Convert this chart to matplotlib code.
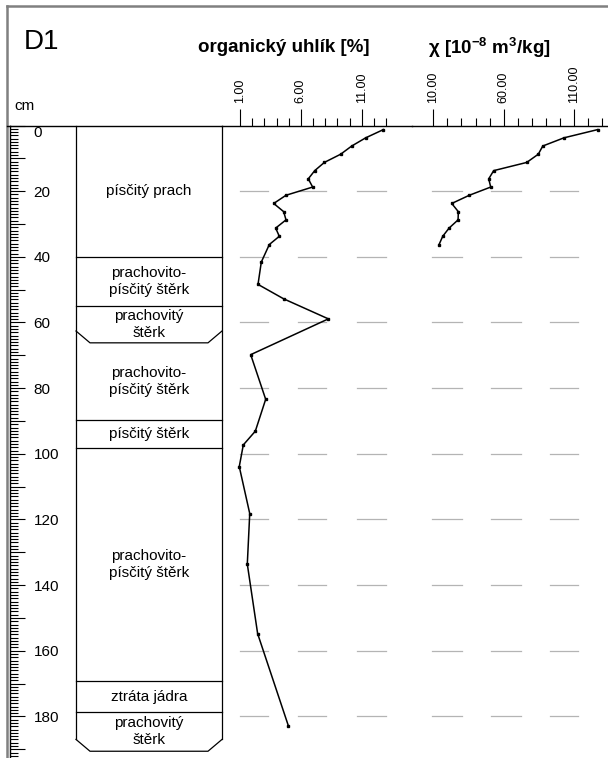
import numpy as np
import matplotlib
matplotlib.use('Agg')
import matplotlib.pyplot as plt
from matplotlib.lines import Line2D
from matplotlib.ticker import FixedLocator, MultipleLocator

# lithology of the core (depth in cm)
layer_tops = [0, 40, 55, 66.2, 89.8, 98.3, 169.3, 178.7]
layer_bottoms = [40, 55, 66.2, 89.8, 98.3, 169.3, 178.7, 190.6]
layer_names = ['písčitý prach', 'prachovito-\npísčitý štěrk', 'prachovitý\nštěrk',
	'prachovito-\npísčitý štěrk', 'písčitý štěrk', 'prachovito-\npísčitý štěrk',
	'ztráta jádra', 'prachovitý\nštěrk']
layer_cut = [False, False, True, False, False, False, False, True]

# organic carbon [%]
org_depth = [1.25, 3.75, 6.25, 8.75, 11.25, 13.75, 16.25, 18.75, 21.25, 23.75,
	26.25, 28.75, 31.25, 33.75, 36.25, 41.6, 48.4, 52.8, 58.9, 69.8,
	83.4, 93.1, 97.3, 103.9, 118.2, 133.6, 154.8, 182.8]
org_values = [12.78, 11.33, 10.18, 9.27, 7.93, 7.14, 6.61, 6.97, 4.78, 3.77,
	4.59, 4.78, 3.93, 4.23, 3.41, 2.75, 2.48, 4.59, 8.26, 1.88,
	3.11, 2.26, 1.27, 0.94, 1.80, 1.60, 2.45, 4.97]

# magnetic susceptibility chi [10^-8 m3/kg]
chi_depth = [1.25, 3.75, 6.25, 8.75, 11.25, 13.75, 16.25, 18.75, 21.25, 23.75,
	26.25, 28.75, 31.25, 33.75, 36.25]
chi_values = [126.8, 102.9, 87.8, 84.6, 76.4, 52.9, 49.4, 50.8, 35.6, 23.1,
	27.8, 27.6, 21.2, 16.7, 14.1]

org_major = [1, 6, 11]
org_minor = [2, 3, 4, 5, 7, 8, 9, 10, 12, 13]
chi_major = [10, 60, 110]
chi_minor = [20, 30, 40, 50, 70, 80, 90, 100, 120, 130]
depth_major = list(range(0, 191, 10))
grid_depths = [20, 40, 60, 80, 100, 120, 140, 160, 180]

W, H = 608, 758
TOP = 125.5
PX_CM = 3.283


def fx(px):
	return px / W

def fy(py):
	return 1 - py / H


def value_axis(fig, left, right, xlim, major, minor, spans):
	ax = fig.add_axes([fx(left), 0, fx(right - left), fy(TOP)])
	ax.patch.set_visible(False)
	ax.set_xlim(xlim)
	ax.set_ylim((H - TOP) / PX_CM, 0)
	for s in ['left', 'right', 'bottom']:
		ax.spines[s].set_visible(False)
	ax.spines['top'].set_linewidth(1.0)
	ax.xaxis.tick_top()
	ax.set_xticks(major)
	ax.set_xticklabels(['%.2f' % m for m in major])
	ax.xaxis.set_minor_locator(FixedLocator(minor))
	ax.tick_params(axis='x', which='major', direction='out', length=12, width=0.8,
		labelsize=9, pad=4, labelrotation=90)
	ax.tick_params(axis='x', which='minor', direction='out', length=6, width=0.8)
	ax.set_yticks([])
	for d in grid_depths:
		for a, b in spans:
			ax.plot([a, b], [d, d], color='#b4b4b4', lw=0.9, zorder=1)
	return ax


def main():
	plt.rcParams['font.family'] = ['Liberation Sans', 'DejaVu Sans']
	plt.rcParams['mathtext.default'] = 'regular'
	fig = plt.figure(figsize=(W / 100, H / 100), dpi=100)

	# depth scale + lithology column
	ax = fig.add_axes([fx(10), 0, fx(212), fy(TOP)])
	ax.patch.set_visible(False)
	ax.set_xlim(0, 212)
	ax.set_ylim((H - TOP) / PX_CM, 0)
	for s in ['right', 'bottom']:
		ax.spines[s].set_visible(False)
	ax.spines['left'].set_linewidth(1.0)
	ax.spines['top'].set_linewidth(1.0)
	ax.set_xticks([])
	ax.set_yticks(depth_major)
	ax.set_yticklabels([str(d) if d % 20 == 0 else '' for d in depth_major])
	ax.yaxis.set_minor_locator(MultipleLocator(1))
	ax.tick_params(axis='y', which='major', direction='in', length=11, width=0.8,
		labelsize=11, pad=-17)
	ax.tick_params(axis='y', which='minor', direction='in', length=6, width=0.8)
	for lab in ax.get_yticklabels():
		lab.set_ha('left')
	ax.get_yticklabels()[0].set_va('top')

	xl, xr = 66, 212
	cut_x, cut_y = 14, 3.6
	last = layer_bottoms[-1]
	ax.plot([xl, xl], [0, last - cut_y], color='black', lw=0.9, clip_on=False)
	ax.plot([xr, xr], [0, last - cut_y], color='black', lw=0.9, clip_on=False)
	for top, bot, name, cut in zip(layer_tops, layer_bottoms, layer_names, layer_cut):
		if cut:
			ax.plot([xl, xl + cut_x, xr - cut_x, xr], [bot - cut_y, bot, bot, bot - cut_y],
				color='black', lw=0.9, clip_on=False)
		else:
			ax.plot([xl, xr], [bot, bot], color='black', lw=0.9, clip_on=False)
		ax.text((xl + xr) / 2, (top + bot) / 2, name, ha='center', va='center',
			fontsize=11, linespacing=1.25)

	ax_org = value_axis(fig, 222, 412, (1 + (222 - 240) / 12.17, 1 + (412 - 240) / 12.17),
		org_major, org_minor, [(1.0, 3.33), (5.8, 8.1), (10.6, 13.0)])
	ax_org.plot(org_values, org_depth, color='black', lw=1.1, marker='s', ms=1.6, zorder=3)

	ax_chi = value_axis(fig, 412, 608, (10 + (412 - 433.3) / 1.407, 10 + (608 - 433.3) / 1.407),
		chi_major, chi_minor, [(9.3, 30.2), (51.0, 72.3), (93.0, 113.0)])
	ax_chi.plot(chi_values, chi_depth, color='black', lw=1.1, marker='s', ms=1.6, zorder=3)

	# frame and header texts
	fig.add_artist(Line2D([fx(6.5), 1], [fy(5.5), fy(5.5)], transform=fig.transFigure,
		color='#808080', lw=1.8))
	fig.add_artist(Line2D([fx(6.5), fx(6.5)], [fy(5.5), 0], transform=fig.transFigure,
		color='#808080', lw=1.8))
	fig.add_artist(Line2D([fx(6.5), fx(10)], [fy(TOP), fy(TOP)], transform=fig.transFigure,
		color='black', lw=1.0))

	fig.text(fx(24), fy(42), 'D1', fontsize=20, ha='left', va='center')
	fig.text(fx(14), fy(106), 'cm', fontsize=11, ha='left', va='center')
	fig.text(fx(283.5), fy(48), 'organický uhlík [%]', fontsize=13.5, fontweight='bold',
		ha='center', va='center')
	fig.text(fx(489), fy(48), r'$\chi$ [10$^{-8}$ m$^{3}$/kg]', fontsize=13.5,
		fontweight='bold', ha='center', va='center')

	fig.savefig('out.png', dpi=100)


if __name__ == '__main__':
	main()
